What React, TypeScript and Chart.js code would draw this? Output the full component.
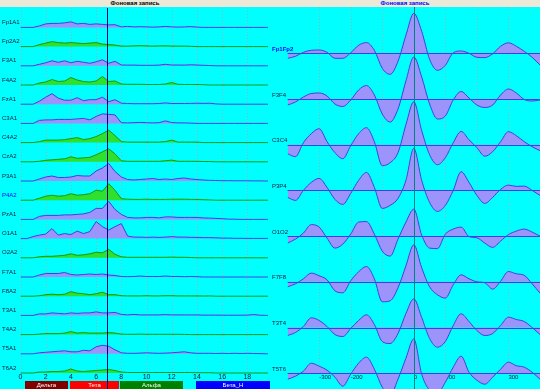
import React, { useEffect, useRef } from 'react';
import { Chart, registerables } from 'chart.js';

Chart.register(...registerables);

// ---------------- data ----------------
const panelTitle = 'Фоновая запись';

// left panel: spectra (Hz)
const spectrumFreqs = [0, 0.5, 1, 1.5, 2, 2.5, 3, 3.5, 4, 4.5, 5, 5.5, 6, 6.5, 7, 7.5, 8, 8.5, 9, 9.5, 10, 10.5, 11, 11.5, 12, 12.5, 13, 13.5, 14, 14.5, 15, 15.5, 16, 16.5, 17, 17.5, 18, 18.5, 19, 19.5, 20];
const spectrumChannels = ['Fp1A1', 'Fp2A2', 'F3A1', 'F4A2', 'FzA1', 'C3A1', 'C4A2', 'CzA2', 'P3A1', 'P4A2', 'PzA1', 'O1A1', 'O2A2', 'F7A1', 'F8A2', 'T3A1', 'T4A2', 'T5A1', 'T6A2'];
const spectrumSelected = 'P4A2';

const spFp1A1 = [0, 0, 0, 1.5, 3.5, 4, 4, 4.5, 5.5, 3.5, 4, 3, 3.5, 3, 2.5, 2.7, 0.5, 1, 0.5, 0.7, 0.5, 0.3, 0.5, 1, 0.5, 0.3, 0.5, 0.8, 0.3, 0, 0, 0, 0, 0, 0, 0, 0, 0, 0, 0, 0];
const spFp2A2 = [0, 0, 0, 2, 3.5, 5, 4, 3.5, 4, 3.5, 3, 3.5, 4, 2.5, 2, 1.5, 0.5, 0.5, 0.7, 1, 0.7, 0.5, 0.7, 0.8, 0.5, 0.5, 0.5, 0.3, 0, 0, 0, 0, 0, 0, 0, 0, 0, 0, 0, 0, 0];
const spF3A1 = [0, 0, 0, 1.5, 3, 5, 3.5, 5, 3, 4.5, 3.5, 2.5, 4, 6, 2.5, 4.5, 0.8, 0.7, 0.7, 0.5, 0.5, 0.5, 0.7, 1.5, 0.8, 0.8, 0.7, 1, 0.8, 0.5, 0.3, 0, 0, 0, 0, 0, 0, 0, 0, 0, 0];
const spF4A2 = [0, 0, 0, 2, 3, 5.5, 3.5, 4, 7.5, 5, 3.5, 3, 4, 8.5, 3.5, 4, 1, 0.7, 0.7, 0.7, 0.5, 0.5, 0.5, 1, 2.5, 0.7, 0.5, 0.5, 0.5, 0.3, 0, 0, 0, 0, 0, 0, 0, 0, 0, 0, 0];
const spFzA1 = [0, 0, 0, 3, 7, 10.5, 6, 4, 4, 6.5, 3.5, 4.5, 4.5, 7, 2.5, 4.5, 1, 0.7, 0.5, 0.5, 0.5, 0.5, 0.7, 1.3, 0.7, 0.7, 0.7, 0.8, 1, 0.8, 1, 0.3, 0, 0, 0, 0, 0, 0, 0, 0, 0];
const spC3A1 = [0, 0, 0, 3, 3.5, 3.5, 4, 4, 4, 4.5, 5, 3.5, 7, 9.5, 9, 8.5, 0.7, 0.5, 0.7, 1, 0.7, 0.5, 0.7, 2.5, 0.8, 0.5, 0.5, 0.3, 0, 0, 0, 0, 0, 0, 0, 0, 0, 0, 0, 0, 0];
const spC4A2 = [0, 0, 0, 1, 2.5, 2.5, 2.5, 3, 4, 5, 3, 4, 6, 9, 12.5, 7, 1, 0.5, 0.5, 0.5, 0.5, 0.5, 0.5, 1, 2.5, 0.5, 0.5, 0.5, 0.5, 0, 0, 0, 0, 0, 0, 0, 0, 0, 0, 0, 0];
const spCzA2 = [0, 0, 0, 0.5, 1.5, 2, 2.5, 3, 5, 3.5, 4, 4.5, 7, 10, 13, 8, 1, 0.5, 0.5, 0.5, 0.5, 0.5, 0.5, 1, 1.7, 0.5, 0.5, 0.5, 0.5, 0.3, 0.3, 0, 0, 0, 0, 0, 0, 0, 0, 0, 0];
const spP3A1 = [0, 0, 0, 2, 4, 5, 3.5, 3.5, 4, 5.5, 5, 5, 10, 13, 17.5, 9.5, 4, 1.5, 1, 1.5, 2, 2.5, 1.5, 2, 1.5, 2.5, 3, 2, 1.5, 1, 0.7, 0.5, 0.3, 0.3, 0.2, 0.2, 0.2, 0.1, 0.1, 0, 0];
const spP4A2 = [0, 0, 0, 2, 4, 5, 4, 4.5, 6.5, 5, 5.5, 6.5, 10, 9, 16.5, 10, 1.5, 1, 0.8, 0.8, 1, 0.8, 0.8, 0.8, 1, 1, 1, 0.8, 0.8, 0.5, 0.3, 0, 0, 0, 0, 0, 0, 0, 0, 0, 0];
const spPzA1 = [0, 0, 0, 3, 4, 4, 4, 4.5, 4.5, 5, 5.5, 7, 11, 11, 18, 10, 5, 2, 1.5, 1.5, 2, 2, 1.5, 2.5, 2.5, 2, 2, 2, 2, 1.5, 1.3, 1, 0.7, 0.3, 0.2, 0, 0, 0, 0, 0, 0];
const spO1A1 = [0, 0, 2, 3.5, 4.5, 10, 3.5, 5, 4, 7.5, 5, 7, 17, 12, 8.5, 12, 15, 2.5, 1.5, 1.5, 1.2, 1.5, 1.2, 1.5, 2, 1.5, 1.5, 1.3, 1.2, 1, 1, 0.8, 0.5, 0.5, 0.3, 0.3, 0.2, 0.2, 0.2, 0.2, 0.2];
const spO2A2 = [0, 0, 0, 1, 1.5, 1.5, 2, 2.5, 4, 2.5, 3, 4, 5.5, 5, 8.5, 3.5, 1, 0.5, 0.5, 0.5, 0.5, 0.5, 0.5, 0.5, 0.7, 0.5, 0.5, 0.3, 0, 0, 0, 0, 0, 0, 0, 0, 0, 0, 0, 0, 0];
const spF7A1 = [0, 0, 0, 2, 3.5, 3.5, 3.5, 4.5, 2.5, 2, 2.5, 3, 2.5, 3, 2, 1.5, 0.5, 0.3, 0.5, 1, 0.5, 0.5, 0.5, 1, 0.5, 0.5, 0.3, 0.5, 0.3, 0, 0, 0, 0, 0, 0, 0, 0, 0, 0, 0, 0];
const spF8A2 = [0, 0, 0, 0.5, 1.5, 2, 1.5, 2, 4.5, 3, 2.5, 1.5, 2.5, 4, 1.5, 1.5, 0.5, 0.3, 0.3, 0.3, 0.5, 0.3, 0.3, 0.5, 0.5, 0.3, 0.3, 0.3, 0.3, 0.2, 0.3, 0, 0, 0, 0, 0, 0, 0, 0, 0, 0];
const spT3A1 = [0, 0, 0, 1.5, 1.5, 2.5, 2, 1.5, 2.5, 2, 2.5, 2.5, 3.5, 2.5, 2.5, 3, 1, 0.5, 1, 0.5, 0.5, 0.5, 0.5, 0.8, 0.5, 0.5, 0.5, 0.5, 0.5, 0.3, 0.3, 0.3, 0.2, 0.2, 0.2, 0.2, 0.3, 0.8, 0.2, 0, 0];
const spT4A2 = [0, 0, 0, 0.5, 1, 1, 1, 1.5, 3, 1.5, 2, 1.5, 1.5, 1.5, 2, 1.5, 0.5, 0.3, 0.3, 0.5, 0.3, 0.3, 0.3, 0.3, 0.3, 0.3, 0.2, 0, 0, 0, 0, 0, 0, 0, 0, 0, 0, 0, 0, 0, 0];
const spT5A1 = [0, 0, 0, 1, 1.5, 2, 2.5, 3, 2, 2, 3.5, 3, 7, 8.5, 7.5, 4, 1, 0.5, 0.5, 0.7, 1, 0.7, 0.5, 0.7, 1, 1.5, 2, 1, 0.5, 0.5, 0.5, 0.3, 0.5, 0.3, 0.5, 0.3, 0.5, 0.3, 0.2, 0, 0];
const spT6A2 = [0, 0, 0, 1, 1, 1.5, 1.5, 2, 4, 2, 1.5, 2, 2.5, 3, 3.5, 2.5, 1, 0.5, 0.5, 0.5, 0.5, 0.5, 0.5, 0.5, 0.5, 0.5, 0.5, 0.5, 0.3, 0.3, 0.3, 0, 0, 0, 0, 0, 0, 0, 0, 0, 0];

const spectra = [spFp1A1, spFp2A2, spF3A1, spF4A2, spFzA1, spC3A1, spC4A2, spCzA2, spP3A1, spP4A2, spPzA1, spO1A1, spO2A2, spF7A1, spF8A2, spT3A1, spT4A2, spT5A1, spT6A2];
const spectrumTicks = [0, 2, 4, 6, 8, 10, 12, 14, 16, 18];
const markerFreq = 6.875;

const bandNames = ['Дельта', 'Тета', 'Альфа', 'Бета_Н'];
const bandStarts = [0.35, 3.9, 7.9, 13.9];
const bandEnds = [3.8, 7.8, 12.9, 19.8];

// right panel: correlation curves (ms)
const lags = [-400, -375, -350, -325, -300, -275, -250, -225, -200, -175, -150, -125, -100, -75, -50, -25, 0, 25, 50, 75, 100, 125, 150, 175, 200, 225, 250, 275, 300, 325, 350, 375, 400];
const lagTicks = [-300, -200, -100, 0, 100, 200, 300];
const corrChannels = ['Fp1Fp2', 'F3F4', 'C3C4', 'P3P4', 'O1O2', 'F7F8', 'T3T4', 'T5T6'];
const corrSelected = 'Fp1Fp2';

const crFp1Fp2 = [-5, -3, 1, 3, 3.3, 1, -5, -5, 0.5, 8, 10.7, 3, -15, -21, -8, 18, 40, 22, -6, -17, -12, 0.5, 2.3, 0, -4, -4.3, -0.5, 7, 10.5, 7, 2, -4, -11.7];
const crF3F4 = [-6, -3, 2, 5.5, 6, 3, -5, -7.5, -1, 9, 13.5, 4, -15, -23, -10, 18, 42, 22, -5, -20, -17, -1, 7.5, 1, -6, -8.5, -6, 4, 10, 6, -0.5, -2, -1];
const crC3C4 = [-9, -12, 2, 11, 16, 3, -8, -14, -1, 11, 17, 3, -21, -18, -8, 20, 43, 14, -10, -20, -13, 2, 13.3, 5, -3, -11.5, -7, 3, 13, 9, 3, -2, -6];
const crP3P4 = [-7, -10, 0, 8, 12, 3, -9, -14, -3, 10, 18, 3, -18, -15, -8, 10, 42, 10, -12, -21, -15, 0, 18.7, 8, -5, -13, -7, 1, 5.3, 4, 4.3, 0, -5];
const crO1O2 = [-7, -3, 3, 11.5, 9, -2, -12, -8, 2, 14, 14.5, 2, -15, -20, -3, 14, 27, 1, -12, -12.5, 2, 7, 9, -0.5, -1.7, -7, -11.3, -5, 1.5, 5, 7, 4, 0];
const crF7F8 = [-5, -2, 3, 8.7, 6, 2, -9, -11, 1, 10, 15.3, 3, -20, -19, -6, 16, 37, 14, -5, -13, -16.3, -3, 7, 3, 0, -1, -7.3, 0.5, 10.3, 8, 6.5, -2, -11.3];
const crT3T4 = [-8, -5, 1, 9.7, 7, 1, -7, -9, -1, 7, 12.7, 3, -14, -16, -6, 14, 28.7, 10, -11, -19.7, -14, 2, 13.7, 6, -3, -8, -6, 2, 10.3, 8, 6, 0, -7];
const crT5T6 = [-6, -3, 2, 10, 7, 3, -4, -13, -1, 10, 16, 4, -14, -22, -6, 15, 34.3, -1, -17, -20, -9, 6, 17, 1, -7, -11, -4, 4, 11, 7.5, 6, 1, -6];

const correlations = [crFp1Fp2, crF3F4, crC3C4, crP3P4, crO1O2, crF7F8, crT3T4, crT5T6];

// ---------------- styles ----------------
const FONT = "'Liberation Sans', Arial, sans-serif";
const BG = '#00ffff';
const GRID = '#8fb4b4';
const PURPLE_FILL = '#9c94fa';
const PURPLE_LINE = '#4040e0';
const GREEN_FILL = '#2fe02f';
const GREEN_LINE = '#0f9a0f';
const BAND_COLORS = ['#800000', '#ff0000', '#008000', '#0000ff'];

const L = { width: 270, height: 382, padLeft: 20.5, padRight: 2, padTop: 1, axisH: 15, row0: 19.4, rowGap: 19.2 };
const R = { width: 270, height: 382, padLeft: 17.6, row0: 46.3, rowGap: 45.7 };

const leftBase = (i: number) => -(L.row0 + i * L.rowGap);
const rightBase = (i: number) => -(R.row0 + i * R.rowGap);

const leftDecor = {
  id: 'leftDecor',
  beforeDatasetsDraw(chart: any) {
    const { ctx, chartArea: a } = chart;
    const x = chart.scales.x;
    ctx.save();
    ctx.strokeStyle = GRID;
    ctx.lineWidth = 1;
    ctx.setLineDash([1, 2]);
    for (const t of x.ticks) {
      const px = Math.round(x.getPixelForValue(t.value)) + 0.5;
      ctx.beginPath();
      ctx.moveTo(px, a.top);
      ctx.lineTo(px, a.bottom);
      ctx.stroke();
    }
    ctx.restore();
  },
  afterDatasetsDraw(chart: any) {
    const { ctx } = chart;
    const y = chart.scales.y;
    ctx.save();
    ctx.font = `6px ${FONT}`;
    ctx.textBaseline = 'middle';
    ctx.textAlign = 'left';
    spectrumChannels.forEach((name, i) => {
      const by = y.getPixelForValue(leftBase(i));
      ctx.fillStyle = name === spectrumSelected ? '#0000ff' : '#10183a';
      ctx.fillText(name, 2, by - 5);
    });
    ctx.restore();
  },
  afterDraw(chart: any) {
    const { ctx, chartArea: a } = chart;
    const x = chart.scales.x;
    ctx.save();
    const top = a.bottom + 7;
    const h = chart.height - top;
    ctx.font = `6px ${FONT}`;
    ctx.textAlign = 'center';
    ctx.textBaseline = 'middle';
    bandNames.forEach((n, i) => {
      const x0 = Math.round(x.getPixelForValue(bandStarts[i]));
      const x1 = Math.round(x.getPixelForValue(bandEnds[i]));
      ctx.fillStyle = BAND_COLORS[i];
      ctx.fillRect(x0, top, x1 - x0, h);
      ctx.fillStyle = '#ffffff';
      ctx.fillText(n, (x0 + Math.min(x1, chart.width)) / 2, top + h / 2 + 0.5);
    });
    const mx = Math.round(x.getPixelForValue(markerFreq)) + 0.5;
    ctx.strokeStyle = '#000080';
    ctx.lineWidth = 1;
    ctx.beginPath();
    ctx.moveTo(mx, a.top);
    ctx.lineTo(mx, chart.height);
    ctx.stroke();
    ctx.restore();
  },
};

const rightDecor = {
  id: 'rightDecor',
  beforeDatasetsDraw(chart: any) {
    const { ctx, chartArea: a } = chart;
    const x = chart.scales.x;
    const y = chart.scales.y;
    const bottom = y.getPixelForValue(rightBase(corrChannels.length - 1));
    ctx.save();
    ctx.strokeStyle = GRID;
    ctx.lineWidth = 1;
    ctx.setLineDash([1, 2]);
    for (const t of x.ticks) {
      if (t.value === 0) continue;
      const px = Math.round(x.getPixelForValue(t.value)) + 0.5;
      ctx.beginPath();
      ctx.moveTo(px, a.top);
      ctx.lineTo(px, bottom);
      ctx.stroke();
    }
    ctx.restore();
  },
  afterDatasetsDraw(chart: any) {
    const { ctx, chartArea: a } = chart;
    const x = chart.scales.x;
    const y = chart.scales.y;
    ctx.save();
    ctx.strokeStyle = PURPLE_LINE;
    ctx.lineWidth = 1;
    corrChannels.forEach((_, i) => {
      const by = Math.round(y.getPixelForValue(rightBase(i))) + 0.5;
      ctx.beginPath();
      ctx.moveTo(a.left, by);
      ctx.lineTo(a.right, by);
      ctx.stroke();
    });
    const cx = Math.round(x.getPixelForValue(0)) + 0.5;
    ctx.strokeStyle = '#008080';
    ctx.beginPath();
    ctx.moveTo(cx, a.top);
    ctx.lineTo(cx, a.bottom);
    ctx.stroke();
    ctx.textAlign = 'left';
    ctx.textBaseline = 'middle';
    corrChannels.forEach((name, i) => {
      const by = y.getPixelForValue(rightBase(i));
      const sel = name === corrSelected;
      ctx.font = `${sel ? 'bold ' : ''}6px ${FONT}`;
      ctx.fillStyle = sel ? '#0000ff' : '#10183a';
      ctx.fillText(name, 2, by - 4);
    });
    ctx.restore();
  },
};

function makeLeftConfig(): any {
  const datasets = spectrumChannels.map((name, i) => {
    const base = leftBase(i);
    const green = name.endsWith('A2');
    const vals = spectra[i];
    return {
      label: name,
      data: spectrumFreqs.map((f, k) => ({ x: f, y: base + vals[k] })),
      fill: { value: base },
      borderColor: green ? GREEN_LINE : PURPLE_LINE,
      backgroundColor: green ? GREEN_FILL : PURPLE_FILL,
      borderWidth: 1,
      pointRadius: 0,
      tension: 0,
    };
  });
  return {
    type: 'line',
    data: { datasets },
    plugins: [leftDecor],
    options: {
      animation: false,
      responsive: false,
      devicePixelRatio: 1,
      events: [],
      layout: { padding: { left: L.padLeft, right: L.padRight, top: L.padTop, bottom: 0 } },
      plugins: { legend: { display: false }, tooltip: { enabled: false }, title: { display: false } },
      scales: {
        x: {
          type: 'linear',
          min: 0,
          max: 19.64,
          grid: { display: false, drawTicks: false },
          border: { display: false },
          afterBuildTicks: (s: any) => {
            s.ticks = spectrumTicks.map((v) => ({ value: v }));
          },
          afterFit: (s: any) => {
            s.height = L.axisH;
          },
          ticks: {
            autoSkip: false,
            maxRotation: 0,
            padding: 0,
            color: '#10183a',
            font: { family: FONT, size: 7, lineHeight: 1 },
            callback: (v: any) => String(v),
          },
        },
        y: {
          type: 'linear',
          display: false,
          min: -(L.height - L.padTop - L.axisH),
          max: 0,
        },
      },
    },
  };
}

function makeRightConfig(): any {
  const datasets = corrChannels.map((name, i) => {
    const base = rightBase(i);
    const vals = correlations[i];
    return {
      label: name,
      data: lags.map((l, k) => ({ x: l, y: base + vals[k] })),
      fill: { value: base },
      borderColor: PURPLE_LINE,
      backgroundColor: PURPLE_FILL,
      borderWidth: 1,
      pointRadius: 0,
      cubicInterpolationMode: 'monotone',
    };
  });
  return {
    type: 'line',
    data: { datasets },
    plugins: [rightDecor],
    options: {
      animation: false,
      responsive: false,
      devicePixelRatio: 1,
      events: [],
      layout: { padding: { left: R.padLeft, right: 0, top: 0, bottom: 0 } },
      plugins: { legend: { display: false }, tooltip: { enabled: false }, title: { display: false } },
      scales: {
        x: {
          type: 'linear',
          min: -400,
          max: 400,
          position: { y: rightBase(corrChannels.length - 1) },
          grid: { display: false, drawTicks: false },
          border: { display: false },
          afterBuildTicks: (s: any) => {
            s.ticks = lagTicks.map((v) => ({ value: v }));
          },
          ticks: {
            autoSkip: false,
            maxRotation: 0,
            padding: 1,
            align: 'start',
            color: '#10183a',
            font: { family: FONT, size: 6, lineHeight: 1 },
            callback: (v: any) => String(v),
          },
        },
        y: {
          type: 'linear',
          display: false,
          min: -R.height,
          max: 0,
        },
      },
    },
  };
}

export default function App() {
  const leftRef = useRef<HTMLCanvasElement>(null);
  const rightRef = useRef<HTMLCanvasElement>(null);

  useEffect(() => {
    const c1 = new Chart(leftRef.current as HTMLCanvasElement, makeLeftConfig());
    const c2 = new Chart(rightRef.current as HTMLCanvasElement, makeRightConfig());
    return () => {
      c1.destroy();
      c2.destroy();
    };
  }, []);

  const titleStyle: React.CSSProperties = {
    position: 'absolute',
    top: 0,
    width: 270,
    height: 7,
    textAlign: 'center',
    font: `bold 6px ${FONT}`,
    lineHeight: '7px',
    whiteSpace: 'nowrap',
  };

  return (
    <div style={{ position: 'fixed', left: 0, top: 0, width: 540, height: 389, background: BG, overflow: 'hidden' }}>
      <div style={{ position: 'absolute', left: 0, top: 0, width: 540, height: 7, background: '#ece9d8' }}>
        <div style={{ ...titleStyle, left: 0, color: '#000000' }}>{panelTitle}</div>
        <div style={{ ...titleStyle, left: 270, color: '#0000ff' }}>{panelTitle}</div>
      </div>
      <canvas ref={leftRef} width={L.width} height={L.height} style={{ position: 'absolute', left: 0, top: 7, width: L.width, height: L.height }} />
      <canvas ref={rightRef} width={R.width} height={R.height} style={{ position: 'absolute', left: 270, top: 7, width: R.width, height: R.height }} />
    </div>
  );
}
